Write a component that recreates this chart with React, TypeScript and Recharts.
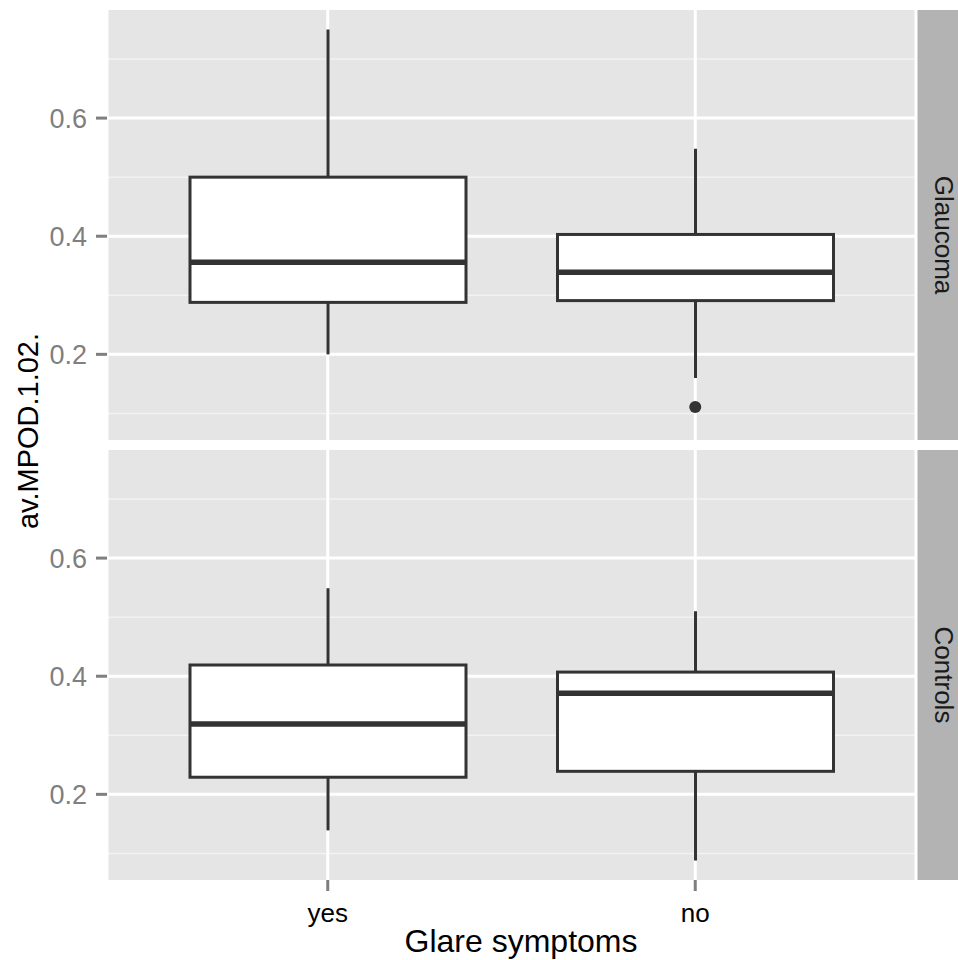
import React from 'react';
import {
  ComposedChart,
  Bar,
  Line,
  XAxis,
  YAxis,
  CartesianGrid,
} from 'recharts';

// categories and tick values
const groups = ['yes', 'no'];
const majorTicks = [0.2, 0.4, 0.6];
const minorTicks = [0.1, 0.3, 0.5, 0.7];
const yDomain = [0.055, 0.783];

// Glaucoma panel (five-number summaries + outliers)
const glaucomaMin = [0.2, 0.16];
const glaucomaQ1 = [0.288, 0.291];
const glaucomaMedian = [0.356, 0.339];
const glaucomaQ3 = [0.5, 0.403];
const glaucomaMax = [0.75, 0.548];
const glaucomaOutlier = [null, 0.111];

// Controls panel
const controlsMin = [0.139, 0.088];
const controlsQ1 = [0.229, 0.239];
const controlsMedian = [0.319, 0.371];
const controlsQ3 = [0.419, 0.407];
const controlsMax = [0.549, 0.51];
const controlsOutlier = [null, null];

const FONT = '"Liberation Sans", Arial, Helvetica, sans-serif';
const INK = '#333333';

const buildRows = (
  min: number[],
  q1: number[],
  med: number[],
  q3: number[],
  max: number[],
  out: (number | null)[]
) =>
  groups.map((g, i) => ({
    group: g,
    range: [min[i], max[i]],
    min: min[i],
    q1: q1[i],
    median: med[i],
    q3: q3[i],
    max: max[i],
    outlier: out[i],
  }));

const glaucomaRows = buildRows(glaucomaMin, glaucomaQ1, glaucomaMedian, glaucomaQ3, glaucomaMax, glaucomaOutlier);
const controlsRows = buildRows(controlsMin, controlsQ1, controlsMedian, controlsQ3, controlsMax, controlsOutlier);

// the bar spans min..max; box and median are placed on the same scale
const BoxShape = (props: any) => {
  const { x, y, width, height, payload } = props;
  const lo = payload.min;
  const hi = payload.max;
  const toY = (v: number) => y + ((hi - v) / (hi - lo)) * height;
  const cx = x + width / 2;
  const yQ3 = toY(payload.q3);
  const yQ1 = toY(payload.q1);
  const yMed = toY(payload.median);
  return (
    <g>
      <line x1={cx} x2={cx} y1={y} y2={yQ3} stroke={INK} strokeWidth={3} />
      <line x1={cx} x2={cx} y1={yQ1} y2={y + height} stroke={INK} strokeWidth={3} />
      <rect x={x} y={yQ3} width={width} height={yQ1 - yQ3} fill="#ffffff" stroke={INK} strokeWidth={3} />
      <line x1={x} x2={x + width} y1={yMed} y2={yMed} stroke={INK} strokeWidth={5.5} />
    </g>
  );
};

const Panel = ({ rows, showX }: { rows: any[]; showX: boolean }) => (
  <ComposedChart
    width={917}
    height={showX ? 520 : 450}
    data={rows}
    margin={{ top: 10, right: 1, bottom: showX ? 0 : 10, left: 0 }}
  >
    <CartesianGrid
      fill="#e5e5e5"
      vertical={false}
      horizontalValues={minorTicks}
      stroke="#f2f2f2"
      strokeWidth={1.5}
    />
    <CartesianGrid
      horizontalValues={majorTicks}
      stroke="#ffffff"
      strokeWidth={3}
    />
    <XAxis
      dataKey="group"
      hide={!showX}
      height={80}
      padding={{ left: 37, right: 37 }}
      axisLine={false}
      tickSize={11}
      tickMargin={13}
      tickLine={{ stroke: '#7f7f7f', strokeWidth: 3 }}
      tick={{ fill: '#000000', fontSize: 26, fontFamily: FONT }}
    />
    <YAxis
      type="number"
      domain={yDomain}
      allowDataOverflow
      ticks={majorTicks}
      width={107}
      axisLine={false}
      tickSize={11}
      tickMargin={9}
      tickLine={{ stroke: '#7f7f7f', strokeWidth: 3 }}
      tick={{ fill: '#7f7f7f', fontSize: 27, fontFamily: FONT }}
      tickFormatter={(v: number) => v.toFixed(1)}
    />
    <Bar dataKey="range" barSize={276} shape={<BoxShape />} isAnimationActive={false} />
    <Line
      dataKey="outlier"
      stroke="none"
      dot={{ r: 6, fill: INK, stroke: 'none' }}
      activeDot={false}
      isAnimationActive={false}
    />
  </ComposedChart>
);

export default function App() {
  return (
    <div style={{ position: 'absolute', left: 0, top: 0, width: 958, height: 960, background: '#ffffff', overflow: 'hidden' }}>
      <div style={{ position: 'absolute', left: 0, top: 0 }}>
        <Panel rows={glaucomaRows} showX={false} />
      </div>
      <div style={{ position: 'absolute', left: 0, top: 440 }}>
        <Panel rows={controlsRows} showX={true} />
      </div>
      <svg width={958} height={960} style={{ position: 'absolute', left: 0, top: 0, pointerEvents: 'none' }}>
        <rect x={917.5} y={10} width={41} height={430} fill="#b3b3b3" />
        <rect x={917.5} y={450} width={41} height={430} fill="#b3b3b3" />
        <text x={935} y={235} transform="rotate(90 935 235)" textAnchor="middle" fontSize={26} fontFamily={FONT} fill="#1a1a1a">
          Glaucoma
        </text>
        <text x={935} y={675} transform="rotate(90 935 675)" textAnchor="middle" fontSize={26} fontFamily={FONT} fill="#1a1a1a">
          Controls
        </text>
        <text x={38} y={431} transform="rotate(-90 38 431)" textAnchor="middle" fontSize={29} fontFamily={FONT} fill="#000000">
          av.MPOD.1.02.
        </text>
        <text x={521} y={952} textAnchor="middle" fontSize={32} fontFamily={FONT} fill="#000000">
          Glare symptoms
        </text>
      </svg>
    </div>
  );
}
